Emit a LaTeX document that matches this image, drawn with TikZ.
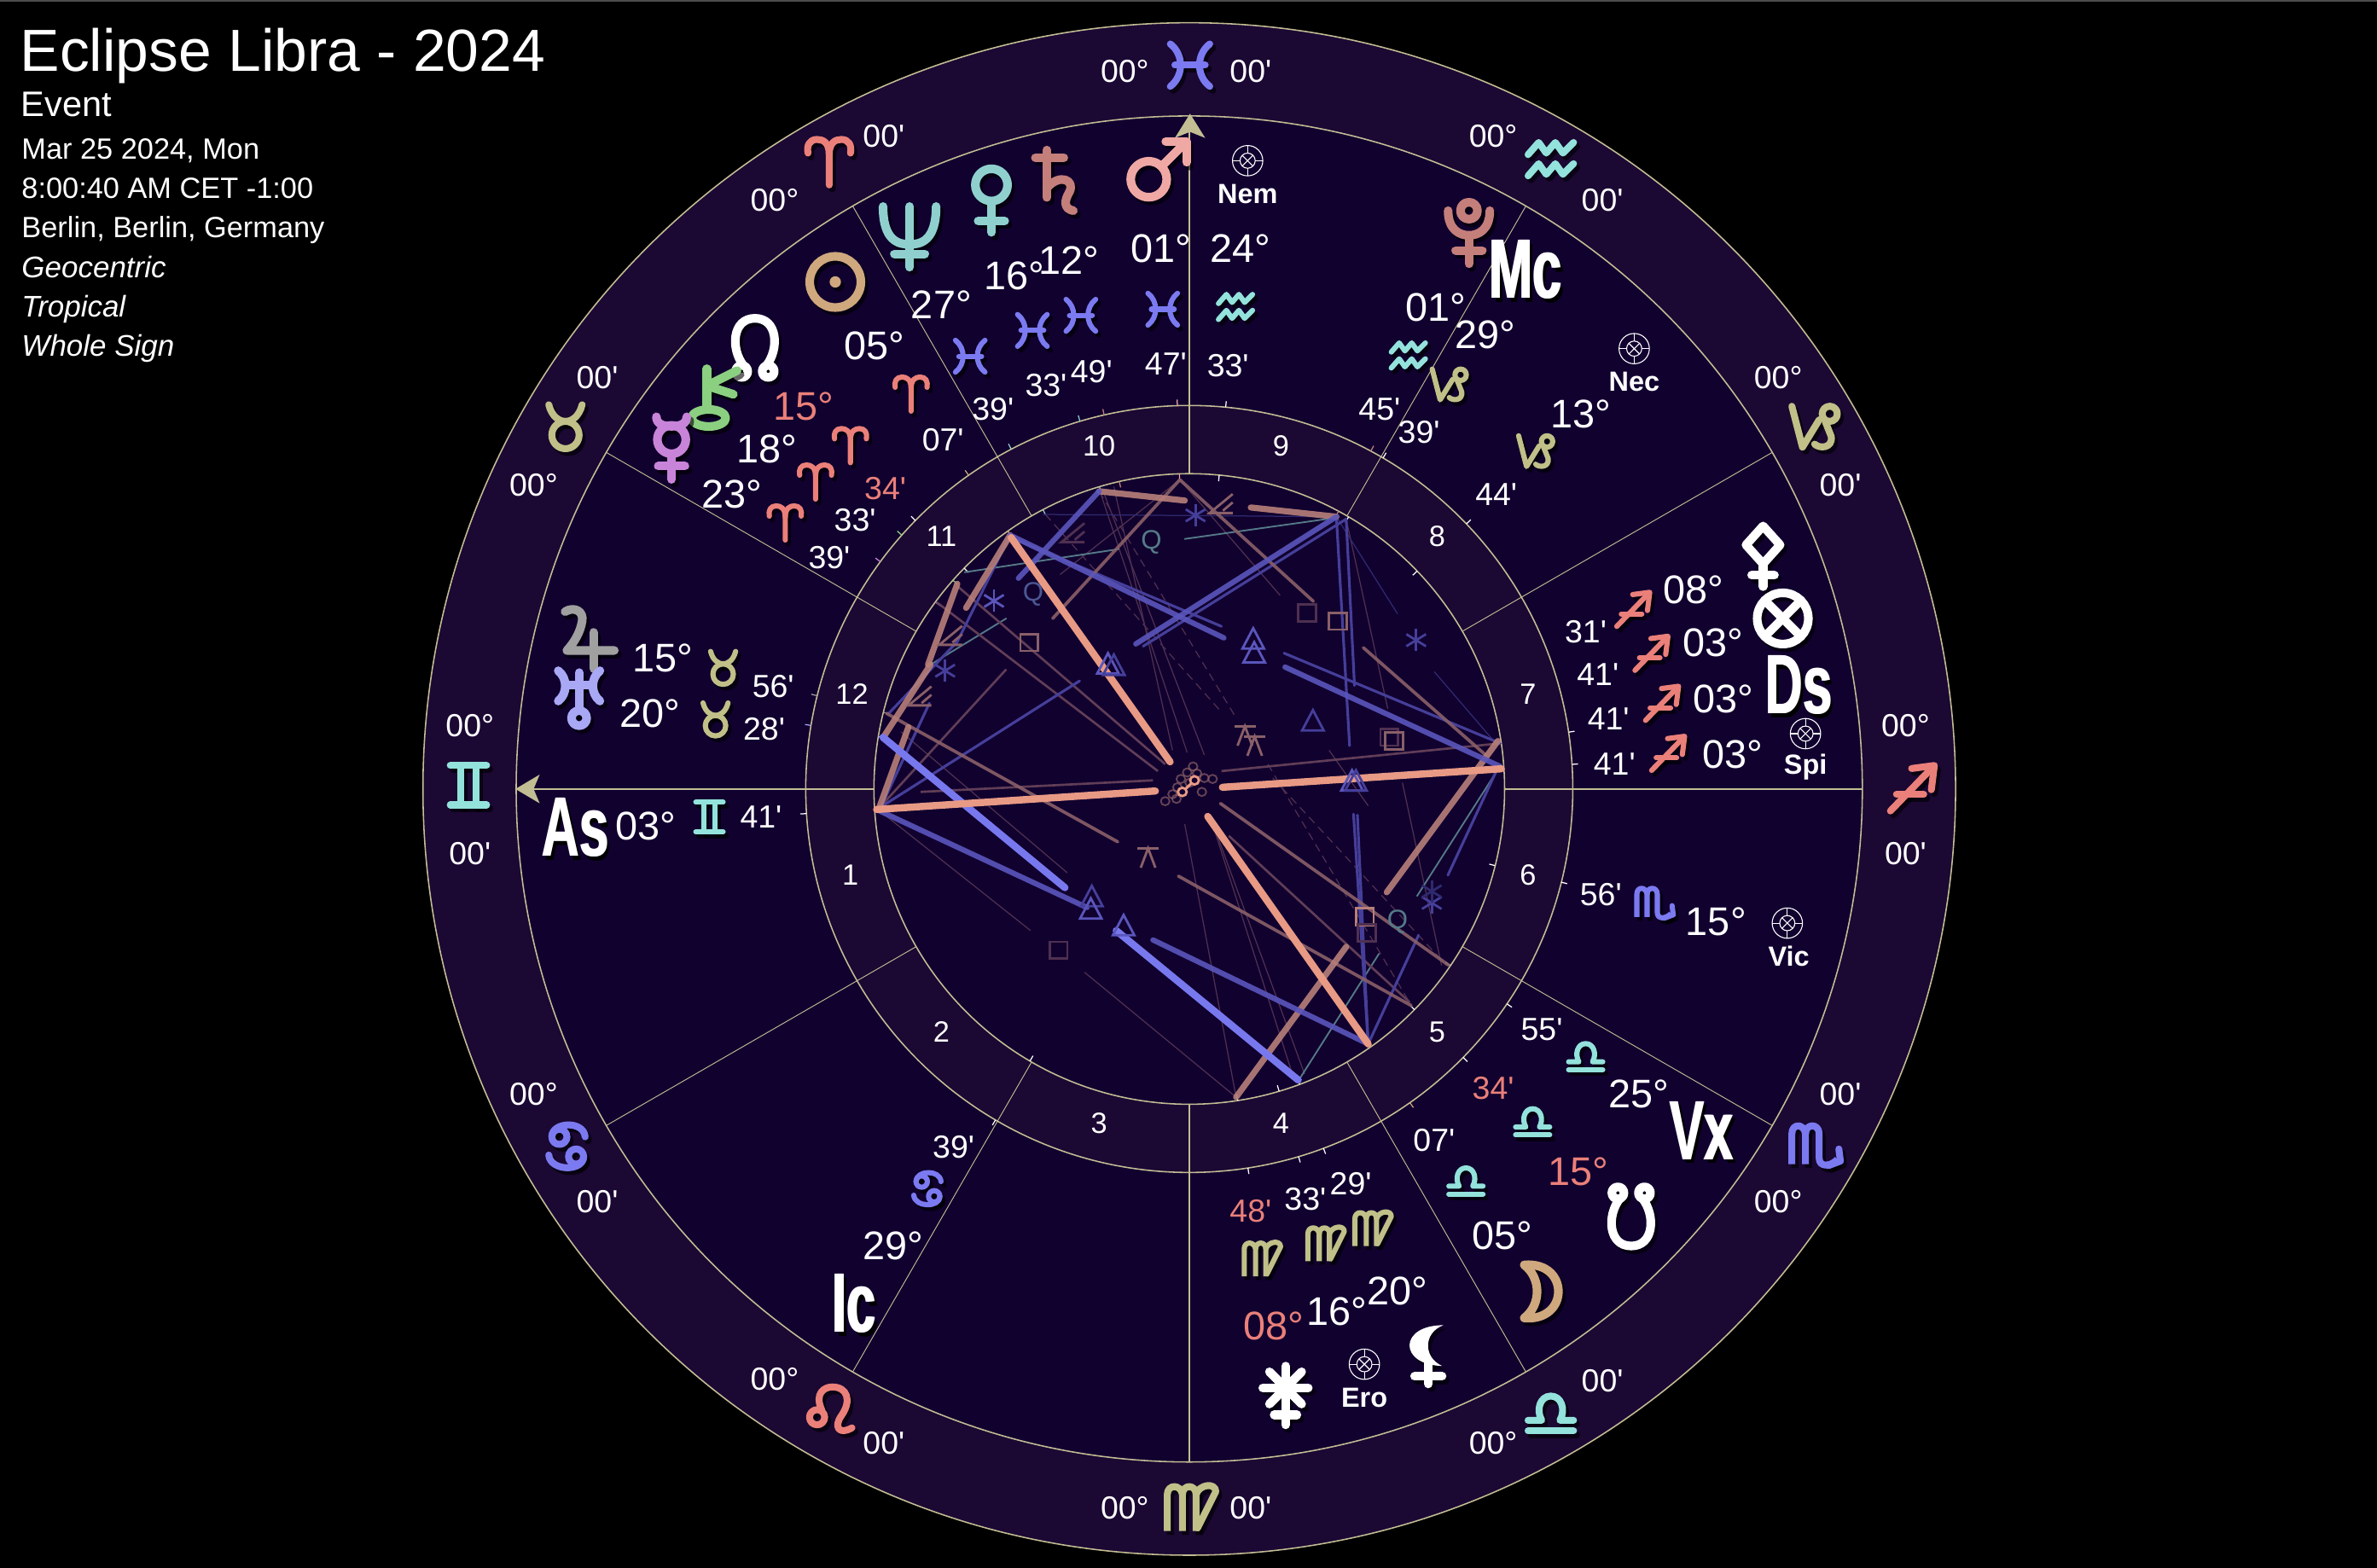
\documentclass[tikz,border=0pt]{standalone}
\usepackage{graphicx}
\usepackage{fontspec}
\usepackage{xcolor}
\usetikzlibrary{calc}
\newfontfamily\chartfont{Liberation Sans}
\definecolor{RingLine}{HTML}{C3BD93}
\definecolor{RingOuter}{HTML}{1B0833}
\definecolor{RingHouse}{HTML}{11012F}
\definecolor{Salmon}{HTML}{EA8079}
\definecolor{Olive}{HTML}{C0C088}
\definecolor{Cyan}{HTML}{93E2DC}
\definecolor{Blu}{HTML}{7B7AF0}
\definecolor{MarsPink}{HTML}{F0A8A5}
\definecolor{SatBrown}{HTML}{C47F7B}
\definecolor{NepTeal}{HTML}{8FD0CE}
\definecolor{SunTan}{HTML}{CFA87E}
\definecolor{ChirGreen}{HTML}{8BD080}
\definecolor{MercViolet}{HTML}{C884D8}
\definecolor{JupGray}{HTML}{A0A0A0}
\definecolor{UraLilac}{HTML}{A9A8F5}
\definecolor{AspRose}{HTML}{E89A85}
\definecolor{AspBlue}{HTML}{7878EE}
\definecolor{AspMidBlue}{HTML}{5A56BC}
\definecolor{AspMidRose}{HTML}{B8807A}
\definecolor{AspDimRose}{HTML}{8A6068}
\definecolor{AspFaintRose}{HTML}{4F3050}
\definecolor{AspDimBlue}{HTML}{453F9A}
\definecolor{AspFaintBlue}{HTML}{2F2A70}
\definecolor{AspTeal}{HTML}{557A88}
\tikzset{
  ringtext/.style={text=white, inner sep=0pt, font=\chartfont\fontsize{12}{12}\selectfont},
  degtext/.style={text=white, inner sep=0pt, font=\chartfont\fontsize{15}{15}\selectfont},
  housetext/.style={text=white, inner sep=0pt, font=\chartfont\fontsize{11}{11}\selectfont},
  asttext/.style={text=white, inner sep=0pt, font=\chartfont\bfseries\fontsize{10.4}{10.4}\selectfont},
  bigtext/.style={inner sep=0pt, font=\chartfont\bfseries\fontsize{31.7}{31.7}\selectfont},
  infotext/.style={text=white, anchor=base west, inner sep=0pt, font=\chartfont\fontsize{11}{11}\selectfont},
  % zodiac signs
  aries/.pic={\draw (0,15) -- (0,-5) .. controls (0,-13) and (-4,-15) .. (-8,-15) .. controls (-13,-15) and (-15,-11) .. (-14,-6);
    \draw (0,-5) .. controls (0,-13) and (4,-15) .. (8,-15) .. controls (13,-15) and (15,-11) .. (14,-6);},
  taurus/.pic={\draw (0,5) circle (9); \draw (-11,-15) .. controls (-9,-7) and (-4,-4) .. (0,-4) .. controls (4,-4) and (9,-7) .. (11,-15);},
  gemini/.pic={\draw (-12,-13) -- (12,-13); \draw (-12,13) -- (12,13);
    \draw (-5,-13) -- (-5,13); \draw (5,-13) -- (5,13);},
  cancer/.pic={\draw (-4,-6) circle (5); \draw (7,7) circle (5);
    \draw (-9,-6) .. controls (-9,-16) and (12,-17) .. (13,-6); \draw (12,7) .. controls (12,17) and (-10,17) .. (-11,6);},
  leo/.pic={\draw (-8,4) circle (5); \draw (-5,-1) .. controls (-10,-12) and (-3,-16) .. (2,-16) .. controls (12,-16) and (15,-7) .. (8,3) .. controls (3,10) and (6,16) .. (15,11);},
  virgo/.pic={\draw[line cap=butt] (-15,16) -- (-15,-8) .. controls (-15,-15) and (-6,-15) .. (-5,-8) -- (-5,16);
    \draw[line cap=butt] (-5,-8) .. controls (-5,-15) and (4,-15) .. (4,-8) -- (4,16);
    \draw (4,-8) .. controls (6,-15) and (17,-16) .. (17,-10) -- (5,14);},
  libra/.pic={\draw (-15,13) -- (15,13); \draw (-15,6) -- (-6,6) .. controls (-10,-1) and (-7,-10) .. (0,-10) .. controls (7,-10) and (10,-1) .. (6,6) -- (15,6);},
  scorpio/.pic={\draw[line cap=butt] (-15,12) -- (-15,-8) .. controls (-15,-15) and (-7,-15) .. (-6,-8) -- (-6,12);
    \draw[line cap=butt] (-6,-8) .. controls (-6,-15) and (3,-15) .. (3,-8) -- (3,8) .. controls (3,14) and (10,14) .. (15,9);
    \draw (16,2) -- (17,10) -- (9,13);},
  sagittarius/.pic={\draw (-14,15) -- (14,-14); \draw (0,-13) -- (15,-15) -- (13,1); \draw (-10,4) -- (8,4);},
  capricorn/.pic={\draw (-15,-14) -- (-8,13) -- (3,-5); \draw (7,-4) -- (11,6) .. controls (12,14) and (3,14) .. (0,11);
    \draw (10,-9) circle (5);},
  aquarius/.pic={\draw (-15,-5) -- (-8,-13) -- (-3,-6) -- (3,-13) -- (8,-6) -- (15,-13);
    \draw (-15,9) -- (-8,1) -- (-3,8) -- (3,1) -- (8,8) -- (15,1);},
  pisces/.pic={\draw (-13,-14) .. controls (-4,-7) and (-4,7) .. (-13,14); \draw (13,-14) .. controls (4,-7) and (4,7) .. (13,14); \draw (-10,0) -- (10,0);},
  % planets
  mars/.pic={\draw (-5,5) circle (9.5); \draw (2,-2) -- (14,-14); \draw (4,-15) -- (15,-15) -- (15,-4);},
  saturn/.pic={\draw (-8,-12) -- (7,-12); \draw (-2,-16) -- (-2,9);
    \draw (-2,4) .. controls (5,-4) and (13,0) .. (10,6) .. controls (7,11) and (7,15) .. (12,16);},
  venus/.pic={\draw (0,-8) circle (8.5); \draw (0,1) -- (0,17); \draw (-7,11) -- (7,11);},
  neptune/.pic={\draw (-14,-15) .. controls (-14,3) and (-6,5) .. (0,5) .. controls (6,5) and (14,3) .. (14,-15);
    \draw (0,-15) -- (0,17); \draw (-8,10) -- (8,10);},
  solar/.pic={\draw (0,0) circle (13.5); \fill (0,0) circle (3);},
  northnode/.pic={\draw (-6,9) .. controls (-13,0) and (-12,-16) .. (0,-16) .. controls (12,-16) and (13,0) .. (6,9);
    \draw (-7,12) circle (3.2); \draw (7,12) circle (3.2);},
  southnode/.pic={\draw (-6,-9) .. controls (-13,0) and (-12,16) .. (0,16) .. controls (12,16) and (13,0) .. (6,-9);
    \draw (-7,-12) circle (3.2); \draw (7,-12) circle (3.2);},
  chiron/.pic={\draw (-3,-15) -- (-3,6); \draw (-2,11) ellipse (9 and 4.5); \draw (13,-14) -- (-3,-6) -- (11,-1.5);},
  mercury/.pic={\draw (0,-4) circle (7.5); \draw (-8,-16) .. controls (-8,-12) and (-4,-11) .. (0,-11) .. controls (4,-11) and (8,-12) .. (8,-16);
    \draw (0,4) -- (0,17); \draw (-7,10) -- (7,10);},
  jupiter/.pic={\draw (-13,-14) .. controls (-8,-17) and (-3,-14) .. (-4,-9) .. controls (-5,-3) and (-8,2) .. (-12,6.5) -- (13,6.5); \draw (2,-3) -- (2,16);},
  uranus/.pic={\draw (-11,-14) .. controls (-6,-10) and (-6,-2) .. (-11,2); \draw (11,-14) .. controls (6,-10) and (6,-2) .. (11,2);
    \draw (-7,-6.5) -- (7,-6.5); \draw (0,-13) -- (0,7); \draw (0,11) circle (4);},
  pluto/.pic={\draw (0,-12) circle (4.5); \draw (-11,-12) .. controls (-11,-2) and (-5,1) .. (0,1) .. controls (5,1) and (11,-2) .. (11,-12);
    \draw (0,1) -- (0,16); \draw (-7,9) -- (7,9);},
  diamondcross/.pic={\draw (0,-16) -- (9,-6) -- (0,4) -- (-9,-6) -- cycle; \draw (0,4) -- (0,16); \draw (-6,10) -- (6,10);},
  crosscircle/.pic={\draw (0,0) circle (13.5); \draw (-9.5,-9.5) -- (9.5,9.5); \draw (-9.5,9.5) -- (9.5,-9.5);},
  crescent/.pic={\draw (-10,-14) .. controls (14,-16) and (14,16) .. (-10,14) .. controls (-1,7) and (-1,-7) .. (-10,-14) -- cycle;},
  crescentcross/.pic={\fill (9.7,-15) .. controls (-14,-15) and (-14,6) .. (9,6.5) .. controls (-1,2) and (-1,-11) .. (9.7,-15) -- cycle;
    \draw (1.8,4) -- (1.8,16); \draw (-5.5,12) -- (9,12);},
  starcross/.pic={\draw (0,-15) -- (0,16); \draw (-12,-3.5) -- (12,-3.5); \draw (-8.5,-12) -- (8.5,5); \draw (-8.5,5) -- (8.5,-12); \draw (-6,10.7) -- (6,10.7);},
  target/.pic={\draw (0,0) circle (10); \draw (0,0) circle (5); \draw (-3.5,-3.5) -- (3.5,3.5); \draw (-3.5,3.5) -- (3.5,-3.5);
    \draw (0,-10) -- (0,-5); \draw (0,5) -- (0,10); \draw (-10,0) -- (-5,0); \draw (5,0) -- (10,0);},
  % aspect marks
  asptri/.pic={\draw (-22,22) -- (0,-22) -- (22,22) -- cycle;},
  aspsquare/.pic={\draw (-18,-18) rectangle (18,18);},
  aspstar/.pic={\draw (0,-24) -- (0,24); \draw (-20,-13) -- (20,13); \draw (-20,13) -- (20,-13);},
  aspsemi/.pic={\draw (25,-26) -- (-22,15) -- (25,15); \draw (25,-8) -- (5,10);},
  aspquin/.pic={\draw (-22,-20) -- (22,-20); \draw (-15,22) -- (0,-20) -- (15,22);},
  % aspect lines
  lnrose/.style={AspRose, line width=2.7pt, line cap=round},
  lnblue/.style={AspBlue, line width=2.7pt, line cap=round},
  lnmidblue/.style={AspMidBlue, line width=2pt, line cap=round, opacity=.9},
  lnmidrose/.style={AspMidRose, line width=2.3pt, line cap=round, opacity=.9},
  lndimrose/.style={AspDimRose, line width=1.2pt, line cap=round, opacity=.9},
  lndimblue/.style={AspDimBlue, line width=1pt, line cap=round},
  lnteal/.style={AspTeal, line width=.6pt, line cap=round},
  lnfaintrose/.style={AspFaintRose, line width=.4pt},
  lnfaintblue/.style={AspFaintBlue, line width=.4pt},
}
% symbol with its drop shadow
\newcommand{\drawsym}[5]{%
  \pic[color=black, opacity=.6, scale=#4, line width={#4*2.6pt}, line cap=round, line join=round] at ($(#2,#3)+(2,2.5)$) {#1};
  \pic[color=#5, scale=#4, line width={#4*2.6pt}, line cap=round, line join=round] at (#2,#3) {#1};
}
\begin{document}
\begin{tikzpicture}[x=0.02cm, y=-0.02cm]
\useasboundingbox (0,0) rectangle (1568,1034.44);
\fill[black] (0,0) rectangle (1568,1034.44);
\fill[black!70!white] (0,0) rectangle (1568,1);

\def\Rout{505.5}
\def\Rzod{444}
\def\Rmid{253}
\def\Rin{208}

% rings and house lines
\begin{scope}[shift={(784.5,520.5)}]
\fill[RingOuter, draw=RingLine, line width=.5pt] (0,0) circle (\Rout);
\fill[RingHouse, draw=RingLine, line width=.5pt] (0,0) circle (\Rzod);
\fill[RingOuter, draw=RingLine, line width=.5pt] (0,0) circle (\Rmid);
\fill[RingHouse, draw=RingLine, line width=.5pt] (0,0) circle (\Rin);
\foreach \a in {30,60,120,150,210,240,300,330}
  \draw[RingLine, line width=.3pt] (\a:\Rin) -- (\a:\Rzod);
\foreach \a in {0,90,180,270}
  \draw[RingLine, line width=.5pt] (\a:\Rin) -- (\a:\Rzod);
% planet ticks
\foreach \a/\c in {91.78/MarsPink,84.55/white,117.65/NepTeal,106.55/NepTeal,102.82/SatBrown,125.12/SunTan,135.57/white,138.55/ChirGreen,143.65/MercViolet,165.93/JupGray,170.47/UraLilac,183.68/white,239.65/white,278.8/white,286.55/white,290.48/white,305.12/SunTan,315.57/white,325.92/white,345.93/white,3.68/white,8.52/white,43.73/white,59.65/white,61.75/SatBrown}
{
  \draw[\c, line width=.4pt] (-\a:\Rmid) -- (-\a:\Rmid+4);
  \draw[\c, line width=.4pt] (-\a:\Rin) -- (-\a:\Rin-4);
}
\end{scope}

% axis arrows
\fill[RingLine] (785,75) -- (795,91) -- (785,87) -- (775,91) -- cycle;
\fill[RingLine] (340,520.5) -- (356,511) -- (352,520.5) -- (356,530) -- cycle;

% aspect lines, in units of a crop of the inner circle
\begin{scope}[shift={(534.7,281.4)}, x=0.006462cm, y=-0.006102cm]
\foreach \xa/\ya/\xb/\yb in {590/135/770/705,620/130/740/700,600/145/805/710,765/860/870/1450,825/870/985/1400,830/880/1010/1400,140/830/450/1090,560/1180/870/1450,1095/200/1180/610,1060/700/1140/820,1210/770/1290/1165,755/115/960/365,510/320/755/115,185/660/525/965}
  \draw[lnfaintrose] (\xa,\ya) -- (\xb,\yb);
\foreach \xa/\ya/\xb/\yb in {480/190/838/615,590/140/870/630,935/730/1230/1255,945/760/1300/1165}
  \draw[lnfaintrose, densely dashed] (\xa,\ya) -- (\xb,\yb);
\foreach \xa/\ya/\xb/\yb in {475/190/1075/195,1075/195/1200/405,1275/530/1405/690}
  \draw[lnfaintblue] (\xa,\ya) -- (\xb,\yb);
\foreach \xa/\ya/\xb/\yb in {315/315/630/265,765/243/1075/197,245/515/400/415,1000/1410/1162/1140,1240/1015/1400/750}
  \draw[lnteal] (\xa,\ya) -- (\xb,\yb);
\foreach \xa/\ya/\xb/\yb in {140/825/400/525,258/380/710/745,300/345/725/730,225/790/700/765,840/745/1410/685,855/885/1225/1245}
  \draw[AspFaintRose!70!AspDimRose, line width=.85pt] (\xa,\ya) -- (\xb,\yb);
\foreach \xa/\ya/\xb/\yb in {140/825/550/550,1095/200/680/475,410/240/840/432,968/490/1410/685,1075/195/1102/690,1095/200/1112/560,1140/1335/1110/838,1140/1335/1118/840,1140/1335/1243/1100,1402/745/1303/970,408/235/300/465,300/465/160/620,243/598/145/820}
  \draw[lndimblue] (\xa,\ya) -- (\xb,\yb);
\foreach \xa/\ya/\xb/\yb in {838/815/1305/1165,755/115/1028/378,755/115/495/415,1130/478/1380/710,155/620/628/898,752/972/1228/1252}
  \draw[lndimrose] (\xa,\ya) -- (\xb,\yb);
\foreach \xa/\ya/\xb/\yb in {140/825/200/650,240/515/300/340,318/392/408/235,150/670/245/515,590/140/765/160,900/175/1075/195,1178/1007/1405/680,870/1450/1095/1125}
  \draw[lnmidrose] (\xa,\ya) -- (\xb,\yb);
\foreach \xa/\ya/\xb/\yb in {135/828/565/1040,700/1110/1140/1335,408/235/845/457,970/520/1410/735,1075/195/665/470,590/140/425/328}
  \draw[lnmidblue] (\xa,\ya) -- (\xb,\yb);
\foreach \xa/\ya/\xb/\yb in {148/672/520/997,625/1090/997/1413}
  \draw[lnblue] (\xa,\ya) -- (\xb,\yb);
\foreach \xa/\ya/\xb/\yb in {410/240/735/725,135/828/705/788,842/780/1412/740,812/843/1140/1335}
  \draw[lnrose] (\xa,\ya) -- (\xb,\yb);

% aspect marks
\foreach \x/\y/\c in {905/458/AspMidBlue,907/488/AspMidBlue,608/512/AspMidBlue,620/515/AspDimBlue,1027/635/AspDimBlue,1107/765/AspMidBlue,1115/765/AspDimBlue,575/1015/AspDimBlue,573/1042/AspMidBlue,640/1078/AspMidBlue}
  \pic[color=\c, line width=.9pt] at (\x,\y) {asptri};
\foreach \x/\y/\c in {1015/403/AspFaintRose,1078/421/AspDimRose,447/467/AspDimRose,1183/672/AspFaintRose,1193/680/AspDimRose,1133/1060/AspMidRose,1137/1095/AspFaintRose,507/1132/AspFaintRose}
  \pic[color=\c, line width=.9pt] at (\x,\y) {aspsquare};
\foreach \x/\y/\c in {375/377/AspMidBlue,275/528/AspDimBlue,787/192/AspDimBlue,1238/462/AspDimBlue,1270/1030/AspDimBlue,1270/1005/AspFaintBlue}
  \pic[color=\c, line width=.9pt] at (\x,\y) {aspstar};
\foreach \x/\y/\c in {838/172/AspDimRose,285/457/AspDimRose,222/588/AspDimRose,535/235/AspFaintRose}
  \pic[color=\c, line width=.9pt] at (\x,\y) {aspsemi};
\foreach \x/\y/\c in {888/668/AspDimRose,908/690/AspDimRose,690/932/AspDimRose}
  \pic[color=\c, line width=.9pt] at (\x,\y) {aspquin};
\foreach \x/\y/\c [count=\i] in {697/250/AspTeal,455/362/AspDimBlue!60!AspTeal,1200/1070/AspTeal}
  \node[text=\c, inner sep=0pt, font=\chartfont\fontsize{10}{10}\selectfont] (aq\i) at (\x,\y) {Q};
% conjunction rings at the centre
\foreach \x/\y in {782/735,770/748,757/762,740/795,725/810,748/805,800/790,822/762,805/760,790/750,775/770,750/780}
  \draw[AspDimRose, opacity=.7, line width=.6pt] (\x,\y) ellipse (9 and 9);
\draw[AspRose, line width=1pt] (785,765) -- (760,790);
\foreach \x/\y in {785/765,760/790}
  \draw[AspRose, fill=RingHouse, line width=.9pt] (\x,\y) ellipse (9 and 9);
\end{scope}

% zodiac signs of the outer ring
\foreach \n/\x/\y/\c in {pisces/785/43/Blu,aquarius/1023/107/Cyan,capricorn/1197/282/Olive,sagittarius/1261/520/Salmon,scorpio/1197/756/Blu,libra/1023/931/Cyan,virgo/785/994/Olive,leo/547/931/Salmon,cancer/373/756/Blu,gemini/309/518/Cyan,taurus/373/282/Olive,aries/547/107/Salmon}
  {\drawsym{\n}{\x}{\y}{1}{\c}}

% small signs beside the degrees
\foreach \n/\x/\y/\c in {pisces/767/204/Blu,aquarius/815/204/Cyan,pisces/713/208/Blu,pisces/681/218/Blu,pisces/640/235/Blu,aries/601/260/Salmon,aries/561/294/Salmon,aries/538/318/Salmon,aries/518/345/Salmon,taurus/477/441/Olive,taurus/472/475/Olive,gemini/468/539/Cyan,aquarius/929/236/Cyan,capricorn/956/254/Olive,capricorn/1013/298/Olive,sagittarius/1077/402/Salmon,sagittarius/1089/431/Salmon,sagittarius/1096/464/Salmon,sagittarius/1100/497/Salmon,scorpio/1091/596/Blu,libra/1046/696/Cyan,libra/1011/739/Cyan,libra/967/778/Cyan,virgo/905/810/Olive,virgo/874/820/Olive,virgo/832/830/Olive,cancer/611/784/Blu}
  {\drawsym{\n}{\x}{\y}{.75}{\c}}

% planets
\drawsym{mars}{764}{112}{1.25}{MarsPink}
\drawsym{saturn}{693}{119}{1.25}{SatBrown}
\drawsym{venus}{654}{132}{1.25}{NepTeal}
\drawsym{neptune}{600}{155}{1.25}{NepTeal}
\drawsym{solar}{551}{186}{1.25}{SunTan}
\drawsym{northnode}{498}{230}{1.25}{white}
\drawsym{chiron}{470}{262}{1.25}{ChirGreen}
\drawsym{mercury}{443}{295}{1.25}{MercViolet}
\drawsym{jupiter}{389}{421}{1.25}{JupGray}
\drawsym{uranus}{382}{460}{1.25}{UraLilac}
\drawsym{pluto}{969}{154}{1.25}{SatBrown}
\drawsym{diamondcross}{1163}{367}{1.25}{white}
\drawsym{crosscircle}{1176}{408}{1.25}{white}
\drawsym{southnode}{1076}{802}{1.25}{white}
\drawsym{crescent}{1018}{852}{1.25}{SunTan}
\drawsym{crescentcross}{940}{893}{1.25}{white}
\drawsym{starcross}{848}{920}{1.25}{white}

% small asteroid marks
\foreach \x/\y in {823/106,1078/230,1191/484,1179/609,900/900}
  \pic[color=white, line width=.35pt] at (\x,\y) {target};

% big axis letters
\foreach \x/\y/\t [count=\i] in {379/546/As,1006/178/Mc,1186/452/Ds,563/860/Ic,1122/746/Vx}
{
  \node[bigtext, text=black] (shade\i) at (\x+2.5,\y+2.5) {\scalebox{.62}[1]{\t}};
  \node[bigtext, text=white] (axis\i) at (\x,\y) {\scalebox{.62}[1]{\t}};
  \node[bigtext, text=white] (axisb\i) at (\x+1,\y) {\scalebox{.62}[1]{\t}};
}

% asteroid names
\foreach \x/\y/\t [count=\i] in {823/128/Nem,1078/252/Nec,1191/506/Spi,1180/631/Vic,900/922/Ero}
  \node[asttext] (ast\i) at (\x,\y) {\t};

% ring degrees
\foreach \x/\y/\t [count=\i] in {742/47/00°,825/47/00',985/90/00°,1057/132/00',1173/249/00°,1214/320/00',1257/479/00°,1257/563/00',1214/722/00',1173/793/00°,1057/911/00',985/952/00°,825/995/00',742/995/00°,511/910/00°,583/952/00',352/722/00°,394/793/00',310/479/00°,310/563/00',394/249/00',352/320/00°,511/132/00°,583/90/00'}
  \node[ringtext] (ring\i) at (\x,\y) {\t};

% planet degrees
\foreach \x/\y/\t [count=\i] in {766/164/01°,818/164/24°,705/172/12°,669/182/16°,621/201/27°,577/228/05°,506/296/18°,483/326/23°,437/434/15°,429/471/20°,426/545/03°,947/203/01°,980/221/29°,1043/273/13°,1117/389/08°,1130/424/03°,1137/461/03°,1143/498/03°,1132/608/15°,1081/722/25°,991/815/05°,922/852/20°,882/865/16°,589/822/29°}
  \node[degtext] (deg\i) at (\x,\y) {\t};
\node[degtext, text=Salmon] (degnode) at (530,268) {15°};
\node[degtext, text=Salmon] (degsouth) at (1041,773) {15°};
\node[degtext, text=Salmon] (degstar) at (840,875) {08°};

% planet minutes
\foreach \x/\y/\t [count=\i] in {769/240/47',810/241/33',720/245/49',690/254/33',655/270/39',622/290/07',564/343/33',547/368/39',510/453/56',504/481/28',502/539/41',910/270/45',936/285/39',987/326/44',1046/417/31',1054/445/41',1061/474/41',1065/504/41',1056/590/56',1017/679/55',946/752/07',891/781/29',861/791/33',629/757/39'}
  \node[ringtext] (min\i) at (\x,\y) {\t};
\node[ringtext, text=Salmon] (minnode) at (584,322) {34'};
\node[ringtext, text=Salmon] (minsouth) at (985,718) {34'};
\node[ringtext, text=Salmon] (minstar) at (825,799) {48'};

% house numbers
\foreach \x/\y/\t [count=\i] in {561/577/1,621/681/2,725/741/3,845/741/4,948/681/5,1008/577/6,1008/458/7,948/354/8,845/294/9,725/294/10,621/354/11,562/458/12}
  \node[housetext] (house\i) at (\x,\y) {\t};

% title block
\node[infotext, font=\chartfont\fontsize{22.3}{22.3}\selectfont] (title) at (13,47) {Eclipse Libra - 2024};
\node[infotext, font=\chartfont\fontsize{13.3}{13.3}\selectfont] (kind) at (13.5,77) {Event};
\node[infotext] (date) at (14,105) {Mar 25 2024, Mon};
\node[infotext] (time) at (14,131) {8:00:40 AM CET -1:00};
\node[infotext] (place) at (14,157) {Berlin, Berlin, Germany};
\node[infotext, font=\chartfont\itshape\fontsize{11.2}{11.2}\selectfont] (geo) at (14,183) {Geocentric};
\node[infotext, font=\chartfont\itshape\fontsize{11.2}{11.2}\selectfont] (zod) at (14,209) {Tropical};
\node[infotext, font=\chartfont\itshape\fontsize{11.2}{11.2}\selectfont] (sys) at (14,235) {Whole Sign};
\end{tikzpicture}
\end{document}
